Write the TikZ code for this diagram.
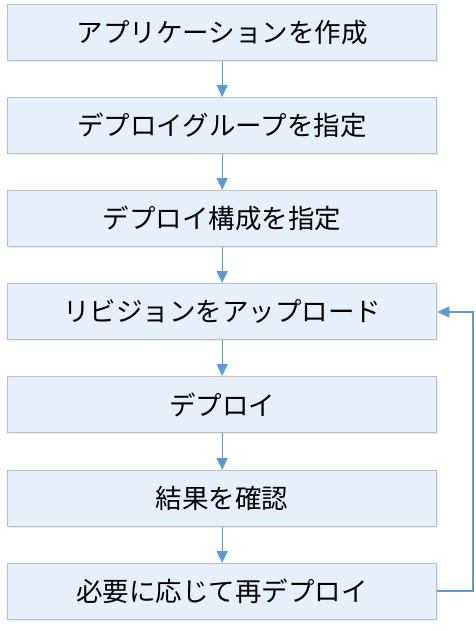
\documentclass[tikz,border=0pt]{standalone}
\usepackage{fontspec}
\setmainfont{Noto Sans CJK JP}
\usetikzlibrary{arrows.meta,shadows}
\definecolor{boxfill}{HTML}{E6F0FC}
\definecolor{boxline}{HTML}{BEBEBE}
\definecolor{arrowc}{HTML}{5B9BD5}
\tikzset{
  stepbox/.style={draw=boxline, line width=1.3pt, fill=boxfill, minimum width=429pt, minimum height=56pt, inner sep=0pt, font=\fontsize{26.5pt}{30pt}\selectfont, anchor=north west, drop shadow={shadow xshift=1pt, shadow yshift=-1pt, fill=black!12, opacity=0.6}},
  flow/.style={draw=arrowc, line width=1.3pt, -{Triangle[length=12pt,width=11pt]}}
}
\begin{document}
\begin{tikzpicture}[x=1pt,y=-1pt]
\useasboundingbox (0,0) rectangle (475,631);
\node[stepbox] (b1) at (7,4) {アプリケーションを作成};
\node[stepbox] (b2) at (7,97) {デプロイグループを指定};
\node[stepbox] (b3) at (7,190) {デプロイ構成を指定};
\node[stepbox] (b4) at (7,283) {リビジョンをアップロード};
\node[stepbox] (b5) at (7,376) {デプロイ};
\node[stepbox] (b6) at (7,470) {結果を確認};
\node[stepbox] (b7) at (7,563) {必要に応じて再デプロイ};
\draw[flow] (b1) -- (b2);
\draw[flow] (b2) -- (b3);
\draw[flow] (b3) -- (b4);
\draw[flow] (b4) -- (b5);
\draw[flow] (b5) -- (b6);
\draw[flow] (b6) -- (b7);
\coordinate (c1) at (473,591);
\coordinate (c2) at (473,312);
\draw[flow] (b7.east |- 0,591) -- (c1) -- (c2) -- (b4.east |- c2);
\end{tikzpicture}
\end{document}
